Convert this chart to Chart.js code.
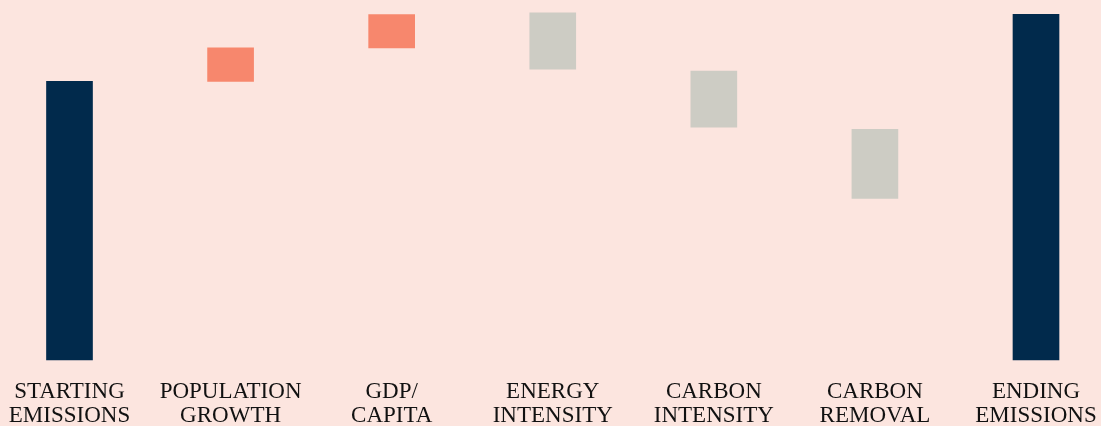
<!DOCTYPE html>
<html>
<head>
<meta charset="utf-8">
<script src="https://cdn.jsdelivr.net/npm/chart.js@4/dist/chart.umd.min.js"></script>
<style>
  html, body { margin: 0; padding: 0; background: #fce5df; }
  #wrap { width: 1101px; height: 426px; position: relative; }
</style>
</head>
<body>
<div id="wrap"><canvas id="c"></canvas></div>
<script>
const categories = [
  ["STARTING", "EMISSIONS"],
  ["POPULATION", "GROWTH"],
  ["GDP/", "CAPITA"],
  ["ENERGY", "INTENSITY"],
  ["CARBON", "INTENSITY"],
  ["CARBON", "REMOVAL"],
  ["ENDING", "EMISSIONS"]
];
const barLow  = [0,   100, 112, 104.4, 83.6,  58.0, 0];
const barHigh = [100, 112, 124, 124.6, 103.7, 82.8, 124.1];
const barColors = ["#012a4c", "#f7876d", "#f7876d", "#cdccc4", "#cdccc4", "#cdccc4", "#012a4c"];

const ranges = barLow.map((lo, i) => [lo, barHigh[i]]);

new Chart(document.getElementById('c'), {
  type: 'bar',
  data: {
    labels: categories,
    datasets: [{
      data: ranges,
      backgroundColor: barColors,
      borderWidth: 0,
      borderSkipped: false,
      barThickness: 46,
      clip: false
    }]
  },
  options: {
    responsive: true,
    maintainAspectRatio: false,
    animation: false,
    layout: { padding: { left: 69.5, right: 65, top: 0, bottom: -21.2 } },
    plugins: { legend: { display: false }, tooltip: { enabled: false } },
    scales: {
      x: {
        offset: false,
        grid: { display: false, drawTicks: false },
        border: { display: false },
        afterFit: (scale) => { scale.paddingLeft = 0; scale.paddingRight = 0; },
        ticks: {
          color: '#111111',
          font: { family: '"Liberation Serif", "Times New Roman", serif', size: 23, lineHeight: 1.052 },
          padding: 19.4,
          maxRotation: 0,
          autoSkip: false
        }
      },
      y: {
        display: false,
        min: 0,
        max: 129.2
      }
    }
  }
});
</script>
</body>
</html>
